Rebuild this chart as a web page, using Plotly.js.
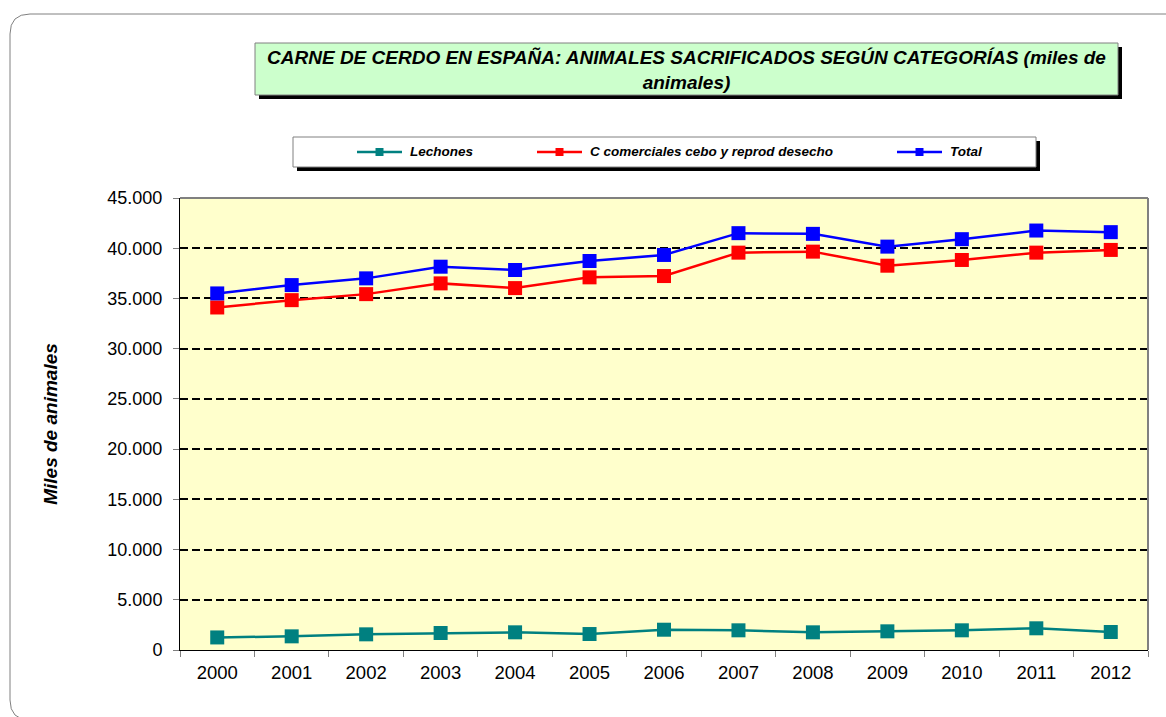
<!DOCTYPE html>
<html>
<head>
<meta charset="utf-8">
<script src="https://cdn.plot.ly/plotly-3.0.1.min.js"></script>
<style>html,body{margin:0;padding:0;background:#fff;}#chart{width:1166px;height:717px;}</style>
</head>
<body>
<div id="chart"></div>
<script>
const years = ['2000','2001','2002','2003','2004','2005','2006','2007','2008','2009','2010','2011','2012'];
const lechones = [1250,1360,1560,1690,1760,1590,2020,1960,1760,1860,1960,2160,1790];
const comerciales = [34100,34830,35430,36500,36030,37100,37230,39560,39660,38260,38830,39560,39830];
const total = [35500,36330,37000,38160,37830,38730,39330,41500,41430,40160,40900,41760,41600];
const seriesNames = ['Lechones','C comerciales cebo y reprod desecho','Total'];
const seriesColors = ['#008080','#ff0000','#0000ff'];
const titleText = 'CARNE DE CERDO EN ESPAÑA: ANIMALES SACRIFICADOS SEGÚN CATEGORÍAS (miles de<br>animales)';
const yTitle = 'Miles de animales';

const W = 1166, H = 717;
const L = 180, R = 18, T = 198, B = 67;
const PW = W - L - R, PH = H - T - B;
const xp = px => (px - L) / PW;
const yp = py => (H - B - py) / PH;
const FONT = '"Liberation Sans", Arial, sans-serif';

const data = [lechones, comerciales, total].map((vals, i) => ({
  type: 'scatter', mode: 'lines+markers', x: years, y: vals, name: seriesNames[i],
  line: {color: seriesColors[i], width: 2.5},
  marker: {symbol: 'square', size: 14, color: seriesColors[i]},
  showlegend: false, hoverinfo: 'x+y+name'
}));

const shapes = [];
const annotations = [];
// outer rounded frame
const P = (x, y) => xp(x) + ',' + yp(y);
shapes.push({type: 'path', xref: 'paper', yref: 'paper', layer: 'below',
  path: 'M' + P(1200, 14) + ' L' + P(30, 14) + ' Q' + P(10, 14) + ' ' + P(10, 34) +
        ' L' + P(10, 700) + ' Q' + P(10, 720) + ' ' + P(30, 720) + ' L' + P(1200, 720),
  line: {color: '#808080', width: 1}});
// title box with shadow
shapes.push({type: 'rect', xref: 'paper', yref: 'paper', layer: 'below', x0: xp(259), x1: xp(1122), y0: yp(47), y1: yp(99), fillcolor: '#000', line: {width: 0}});
shapes.push({type: 'rect', xref: 'paper', yref: 'paper', layer: 'below', x0: xp(255), x1: xp(1118), y0: yp(43), y1: yp(95), fillcolor: '#ccffcc', line: {color: '#808080', width: 1}});
// legend box with shadow
shapes.push({type: 'rect', xref: 'paper', yref: 'paper', layer: 'below', x0: xp(297), x1: xp(1040), y0: yp(141), y1: yp(171), fillcolor: '#000', line: {width: 0}});
shapes.push({type: 'rect', xref: 'paper', yref: 'paper', layer: 'below', x0: xp(293), x1: xp(1036), y0: yp(137), y1: yp(167), fillcolor: '#fff', line: {color: '#808080', width: 1}});
// legend entries
const legX = [357, 537, 897];
const legY = 152;
legX.forEach((x0, i) => {
  shapes.push({type: 'line', xref: 'paper', yref: 'paper', x0: xp(x0), x1: xp(x0 + 45), y0: yp(legY), y1: yp(legY), line: {color: seriesColors[i], width: 2.5}});
  shapes.push({type: 'rect', xref: 'paper', yref: 'paper', x0: xp(x0 + 18.5), x1: xp(x0 + 26.5), y0: yp(legY - 4), y1: yp(legY + 4), fillcolor: seriesColors[i], line: {width: 0}});
  annotations.push({xref: 'paper', yref: 'paper', x: xp(x0 + 51), y: yp(legY), xanchor: 'left', yanchor: 'middle', showarrow: false,
    text: seriesNames[i], font: {family: FONT, size: 13.5, color: '#000', weight: 'bold', style: 'italic'}});
});
// plot frame top & right (gray)
shapes.push({type: 'line', xref: 'paper', yref: 'paper', layer: 'above', x0: 0, x1: 1, y0: 1, y1: 1, line: {color: '#808080', width: 2}});
shapes.push({type: 'line', xref: 'paper', yref: 'paper', layer: 'above', x0: 1, x1: 1, y0: 0, y1: 1, line: {color: '#808080', width: 2}});

const layout = {
  width: W, height: H,
  margin: {l: L, r: R, t: T, b: B, pad: 0},
  paper_bgcolor: '#fff', plot_bgcolor: '#ffffcc',
  separators: ',.',
  font: {family: FONT, color: '#000', size: 18},
  title: {text: titleText, xref: 'container', yref: 'container', x: 686.5 / W, y: 1 - 64 / H, xanchor: 'center', yanchor: 'middle',
    font: {family: FONT, size: 19, color: '#000', weight: 'bold', style: 'italic'}},
  xaxis: {type: 'category', range: [-0.5, 12.5], showgrid: false, zeroline: false,
    showline: true, linecolor: '#000', linewidth: 1,
    ticks: 'outside', tickson: 'boundaries', ticklen: 6, tickcolor: '#808080', tickwidth: 1, ticklabelstandoff: 6,
    tickfont: {family: FONT, size: 18.5, color: '#000'}, fixedrange: true},
  yaxis: {range: [0, 45000], tick0: 0, dtick: 5000, tickformat: ',d',
    showgrid: true, gridcolor: '#000', gridwidth: 2, griddash: '8px,4px', zeroline: false,
    showline: true, linecolor: '#000', linewidth: 1,
    ticks: 'outside', ticklen: 6, tickcolor: '#808080', tickwidth: 1, ticklabelstandoff: 7,
    tickfont: {family: FONT, size: 18, color: '#000'},
    title: {text: yTitle, standoff: 44, font: {family: FONT, size: 19, color: '#000', weight: 'bold', style: 'italic'}},
    fixedrange: true},
  shapes: shapes,
  annotations: annotations
};

Plotly.newPlot('chart', data, layout, {displayModeBar: false, staticPlot: false});
</script>
</body>
</html>
